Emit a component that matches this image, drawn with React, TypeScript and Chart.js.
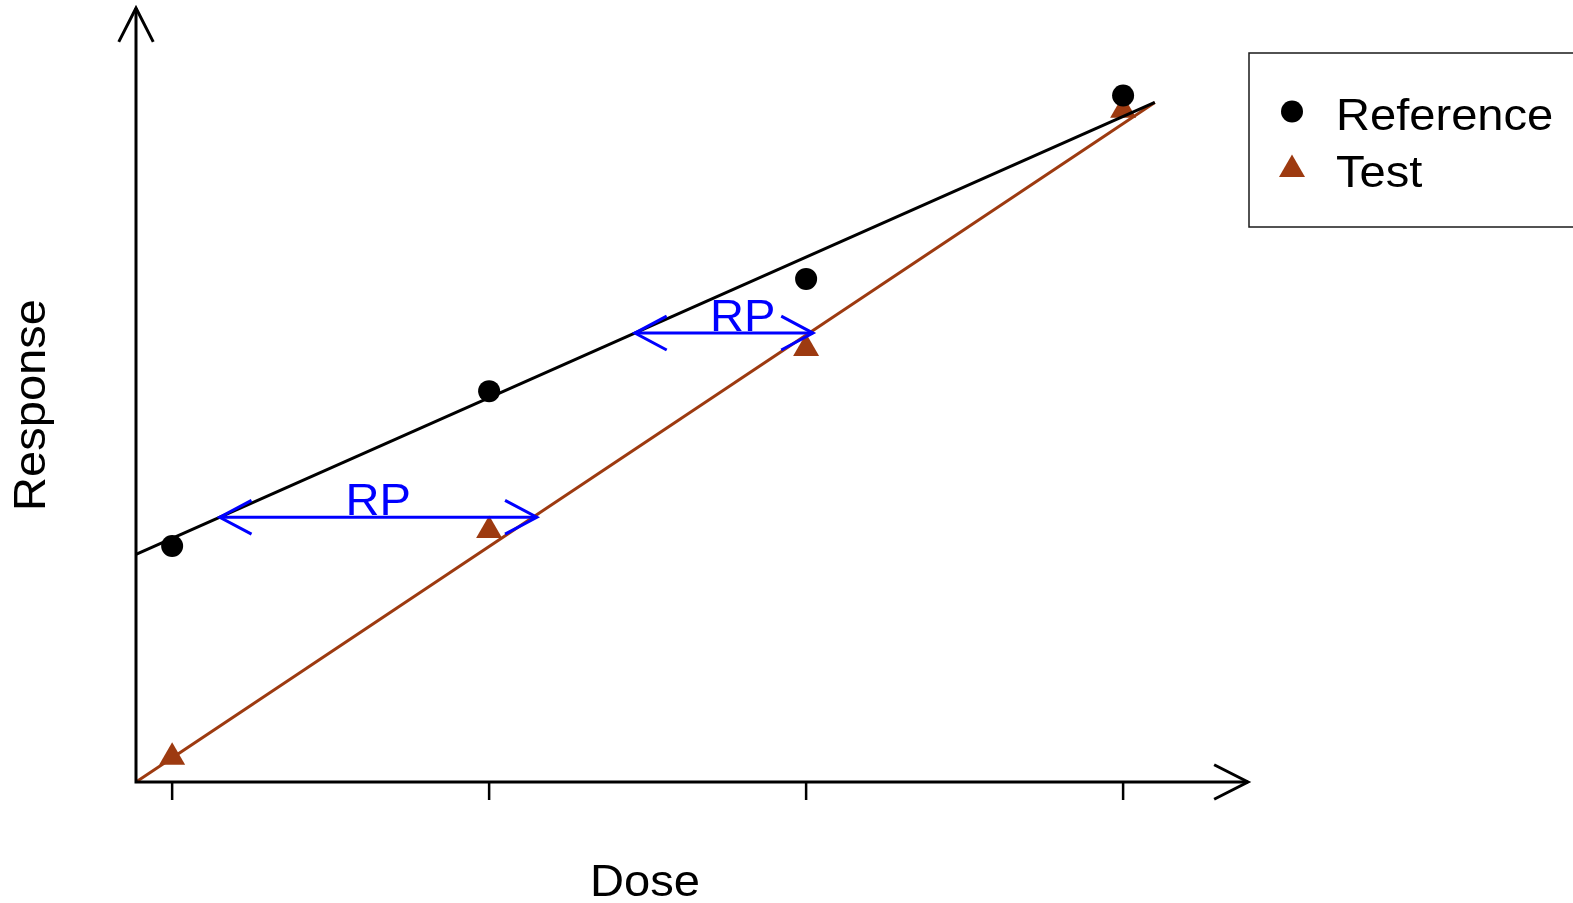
import { useEffect, useRef } from 'react';
import { Chart, registerables } from 'chart.js';

Chart.register(...registerables);

// Dose levels (equally spaced, log scale) and observed mean responses
const doses = [1, 2, 3, 4];
const referenceResponse = [3.05, 5.05, 6.5, 8.87];
const testResponse = [0.32, 3.25, 5.6, 8.68];

// Fitted regression lines, given by their two end points
const lineDose = [0.886, 4.1];
const referenceFit = [2.94, 8.78];
const testFit = [0.0, 8.78];

// Response levels where the relative potency (RP) shift is shown
const rpLevels = [3.42, 5.8];
const rpLabelDose = [1.65, 2.8];

const seriesNames = ['Reference', 'Test'];
const axisTitles = ['Dose', 'Response'];

const X_MIN = 0.886;
const X_MAX = 4.394;
const Y_MIN = 0;
const Y_MAX = 10;

const TEST_COLOR = '#9d3a10';
const RP_COLOR = '#0000ff';
const FONT = '"Liberation Sans", Arial, sans-serif';

// Dose at which a straight fitted line reaches a given response
function doseAt(fit: number[], level: number): number {
  const t = (level - fit[0]) / (fit[1] - fit[0]);
  return lineDose[0] + t * (lineDose[1] - lineDose[0]);
}

function openArrowHead(
  ctx: CanvasRenderingContext2D,
  tipX: number,
  tipY: number,
  dirAngle: number,
  len: number,
  spread: number
) {
  const back = dirAngle + Math.PI;
  ctx.beginPath();
  ctx.moveTo(tipX + len * Math.cos(back - spread), tipY + len * Math.sin(back - spread));
  ctx.lineTo(tipX, tipY);
  ctx.lineTo(tipX + len * Math.cos(back + spread), tipY + len * Math.sin(back + spread));
  ctx.stroke();
}

// Text drawn slightly wider than the font's natural width
function wideText(
  ctx: CanvasRenderingContext2D,
  text: string,
  x: number,
  y: number,
  size: number,
  rotate = 0
) {
  ctx.save();
  ctx.translate(x, y);
  if (rotate) ctx.rotate(rotate);
  ctx.scale(1.07, 1);
  ctx.font = `${size}px ${FONT}`;
  ctx.fillText(text, 0, 0);
  ctx.restore();
}

const overlayPlugin = {
  id: 'doseResponseOverlay',
  afterDatasetsDraw(chart: any) {
    const { ctx, chartArea: a, scales } = chart;
    const xs = scales.x;
    const ys = scales.y;
    ctx.save();

    // Axes with arrow heads
    ctx.strokeStyle = '#000';
    ctx.lineWidth = 3;
    ctx.lineJoin = 'miter';
    ctx.lineCap = 'butt';
    ctx.beginPath();
    ctx.moveTo(a.left, a.bottom);
    ctx.lineTo(a.left, a.top);
    ctx.moveTo(a.left - 1.5, a.bottom);
    ctx.lineTo(a.right, a.bottom);
    ctx.stroke();
    const spread = (27 * Math.PI) / 180;
    openArrowHead(ctx, a.left, a.top, -Math.PI / 2, 38, spread);
    openArrowHead(ctx, a.right, a.bottom, 0, 38, spread);

    // Tick marks at each dose
    ctx.lineWidth = 2.5;
    ctx.beginPath();
    doses.forEach((d) => {
      const px = xs.getPixelForValue(d);
      ctx.moveTo(px, a.bottom);
      ctx.lineTo(px, a.bottom + 18);
    });
    ctx.stroke();

    // Relative potency arrows between the two fitted lines
    ctx.strokeStyle = RP_COLOR;
    ctx.fillStyle = RP_COLOR;
    ctx.lineWidth = 3;
    ctx.textAlign = 'center';
    ctx.textBaseline = 'alphabetic';
    rpLevels.forEach((level, i) => {
      const py = ys.getPixelForValue(level);
      const x1 = xs.getPixelForValue(doseAt(referenceFit, level));
      const x2 = xs.getPixelForValue(doseAt(testFit, level)) + 4;
      ctx.beginPath();
      ctx.moveTo(x1, py);
      ctx.lineTo(x2, py);
      ctx.stroke();
      const rs = (28 * Math.PI) / 180;
      openArrowHead(ctx, x1, py, Math.PI, 36, rs);
      openArrowHead(ctx, x2, py, 0, 36, rs);
      wideText(ctx, 'RP', xs.getPixelForValue(rpLabelDose[i]), py - 2, 44);
    });

    // Axis titles
    ctx.fillStyle = '#000';
    ctx.textAlign = 'center';
    wideText(ctx, axisTitles[0], a.left + 509, a.bottom + 114, 44);
    wideText(ctx, axisTitles[1], a.left - 91, (a.top + a.bottom) / 2 + 10, 44, -Math.PI / 2);

    // Legend box
    const bx = a.right + 1;
    const by = a.top + 45;
    ctx.strokeStyle = '#1a1a1a';
    ctx.lineWidth = 1.5;
    ctx.strokeRect(bx, by, 420, 174);

    const mx = bx + 43;
    // circle marker
    ctx.fillStyle = '#000';
    ctx.beginPath();
    ctx.arc(mx, by + 58.5, 11, 0, Math.PI * 2);
    ctx.fill();
    // triangle marker
    const tr = 15;
    const ty = by + 116.5;
    ctx.fillStyle = TEST_COLOR;
    ctx.beginPath();
    for (let k = 0; k < 3; k++) {
      const ang = (k * 2 * Math.PI) / 3;
      const vx = mx + Math.sin(ang) * tr;
      const vy = ty - Math.cos(ang) * tr;
      if (k === 0) ctx.moveTo(vx, vy);
      else ctx.lineTo(vx, vy);
    }
    ctx.closePath();
    ctx.fill();

    ctx.fillStyle = '#000';
    ctx.textAlign = 'left';
    wideText(ctx, seriesNames[0], bx + 87, by + 77, 44);
    wideText(ctx, seriesNames[1], bx + 87, by + 134, 44);

    ctx.restore();
  },
};

export default function App() {
  const canvasRef = useRef<HTMLCanvasElement | null>(null);

  useEffect(() => {
    const canvas = canvasRef.current;
    if (!canvas) return;

    const pts = (ys: number[]) => doses.map((d, i) => ({ x: d, y: ys[i] }));
    const fitPts = (ys: number[]) => lineDose.map((d, i) => ({ x: d, y: ys[i] }));

    const chart = new Chart(canvas, {
      type: 'scatter',
      data: {
        datasets: [
          {
            label: seriesNames[0],
            data: pts(referenceResponse),
            pointStyle: 'circle',
            pointRadius: 11,
            pointBackgroundColor: '#000',
            pointBorderWidth: 0,
            showLine: false,
            clip: false,
          },
          {
            label: seriesNames[0] + ' fit',
            data: fitPts(referenceFit),
            showLine: true,
            pointRadius: 0,
            borderColor: '#000',
            borderWidth: 3,
            clip: false,
          },
          {
            label: seriesNames[1],
            data: pts(testResponse),
            pointStyle: 'triangle',
            pointRadius: 15,
            pointBackgroundColor: TEST_COLOR,
            pointBorderWidth: 0,
            showLine: false,
            clip: false,
          },
          {
            label: seriesNames[1] + ' fit',
            data: fitPts(testFit),
            showLine: true,
            pointRadius: 0,
            borderColor: TEST_COLOR,
            borderWidth: 3,
            clip: false,
          },
        ],
      } as any,
      options: {
        responsive: false,
        animation: false,
        devicePixelRatio: 1,
        layout: {
          autoPadding: false,
          padding: { left: 136, right: 325, top: 8, bottom: 121 },
        },
        scales: {
          x: { type: 'linear', min: X_MIN, max: X_MAX, display: false },
          y: { type: 'linear', min: Y_MIN, max: Y_MAX, display: false },
        },
        plugins: {
          legend: { display: false },
          tooltip: { enabled: false },
        },
        events: [],
      } as any,
      plugins: [overlayPlugin],
    });

    return () => chart.destroy();
  }, []);

  return (
    <div
      style={{
        position: 'fixed',
        left: 0,
        top: 0,
        width: 1573,
        height: 903,
        background: '#fff',
        overflow: 'hidden',
      }}
    >
      <canvas ref={canvasRef} width={1573} height={903} style={{ display: 'block' }} />
    </div>
  );
}
